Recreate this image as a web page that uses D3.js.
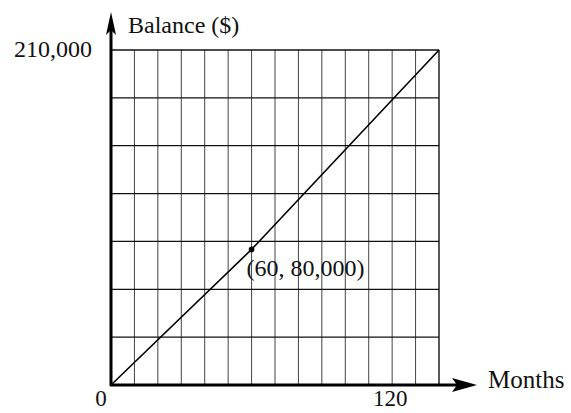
<!DOCTYPE html>
<html>
<head>
<meta charset="utf-8">
<script src="https://cdn.jsdelivr.net/npm/d3@7"></script>
<style>
  body { margin: 0; background: #fff; }
  text { font-family: "Liberation Serif", "Times New Roman", serif; fill: #111; }
</style>
</head>
<body>
<div id="chart"></div>
<script>
// Data
var months = [0, 60, 140];
var balance = [0, 85000, 210000];
var xTickValues = [0, 120];
var xTickLabels = ["0", "120"];
var yTickValues = [210000];
var yTickLabels = ["210,000"];
var pointMonth = [60];
var pointBalance = [85000];
var pointLabel = ["(60, 80,000)"];

var svgWidth = 571;
var svgHeight = 413;

var svg = d3.select("#chart")
    .append("svg")
    .attr("width", svgWidth)
    .attr("height", svgHeight);

// Scales: 14 columns of 10 months, 7 rows of 30,000
var x = d3.scaleLinear().domain([0, 140]).range([111, 439]);
var y = d3.scaleLinear().domain([0, 210000]).range([385, 50]);

var grid = svg.append("g");

// vertical grid lines
grid.selectAll(".vline")
    .data(d3.range(10, 141, 10))
    .enter().append("line")
    .attr("x1", d => x(d)).attr("x2", d => x(d))
    .attr("y1", y(0)).attr("y2", y(210000))
    .attr("stroke", d => d == 140 ? "#222" : "#444")
    .attr("stroke-width", d => d == 140 ? 1.5 : 1);

// horizontal grid lines
grid.selectAll(".hline")
    .data(d3.range(30000, 210001, 30000))
    .enter().append("line")
    .attr("x1", x(0)).attr("x2", x(140))
    .attr("y1", d => y(d)).attr("y2", d => y(d))
    .attr("stroke", "#111")
    .attr("stroke-width", 1.3);

// the balance line
var line = d3.line()
    .x((d, i) => x(months[i]))
    .y(d => y(d));

svg.append("path")
    .datum(balance)
    .attr("d", line)
    .attr("fill", "none")
    .attr("stroke", "#000")
    .attr("stroke-width", 1.6);

// marked point
svg.selectAll(".pt")
    .data(pointMonth)
    .enter().append("circle")
    .attr("cx", d => x(d))
    .attr("cy", (d, i) => y(pointBalance[i]))
    .attr("r", 2.8)
    .attr("fill", "#000");

svg.selectAll(".ptlabel")
    .data(pointLabel)
    .enter().append("text")
    .attr("x", (d, i) => x(pointMonth[i]) - 5)
    .attr("y", (d, i) => y(pointBalance[i]) + 27)
    .attr("font-size", 24)
    .text(d => d);

// axes with arrow heads
var axisX = x(0), axisY = y(0);
svg.append("line")
    .attr("x1", axisX - 1).attr("x2", 458)
    .attr("y1", axisY).attr("y2", axisY)
    .attr("stroke", "#000").attr("stroke-width", 3);
svg.append("path")
    .attr("d", `M477,${axisY} L452,${axisY - 7} L457,${axisY} L452,${axisY + 7} Z`)
    .attr("fill", "#000");

svg.append("line")
    .attr("x1", axisX).attr("x2", axisX)
    .attr("y1", axisY + 1).attr("y2", 30)
    .attr("stroke", "#000").attr("stroke-width", 3);
svg.append("path")
    .attr("d", `M${axisX},12 L${axisX - 5},35 L${axisX},30 L${axisX + 5},35 Z`)
    .attr("fill", "#000");

// tick labels
svg.selectAll(".xlab")
    .data(xTickValues)
    .enter().append("text")
    .attr("x", d => d == 0 ? x(d) - 10 : x(d) - 2)
    .attr("y", 406)
    .attr("text-anchor", "middle")
    .attr("font-size", 23)
    .text((d, i) => xTickLabels[i]);

svg.selectAll(".ylab")
    .data(yTickValues)
    .enter().append("text")
    .attr("x", 92)
    .attr("y", d => y(d) + 7)
    .attr("text-anchor", "end")
    .attr("font-size", 24)
    .text((d, i) => yTickLabels[i]);

// axis titles
svg.append("text")
    .attr("x", 128).attr("y", 33)
    .attr("font-size", 24)
    .text("Balance ($)");

svg.append("text")
    .attr("x", 488).attr("y", 388)
    .attr("font-size", 25)
    .text("Months");
</script>
</body>
</html>
